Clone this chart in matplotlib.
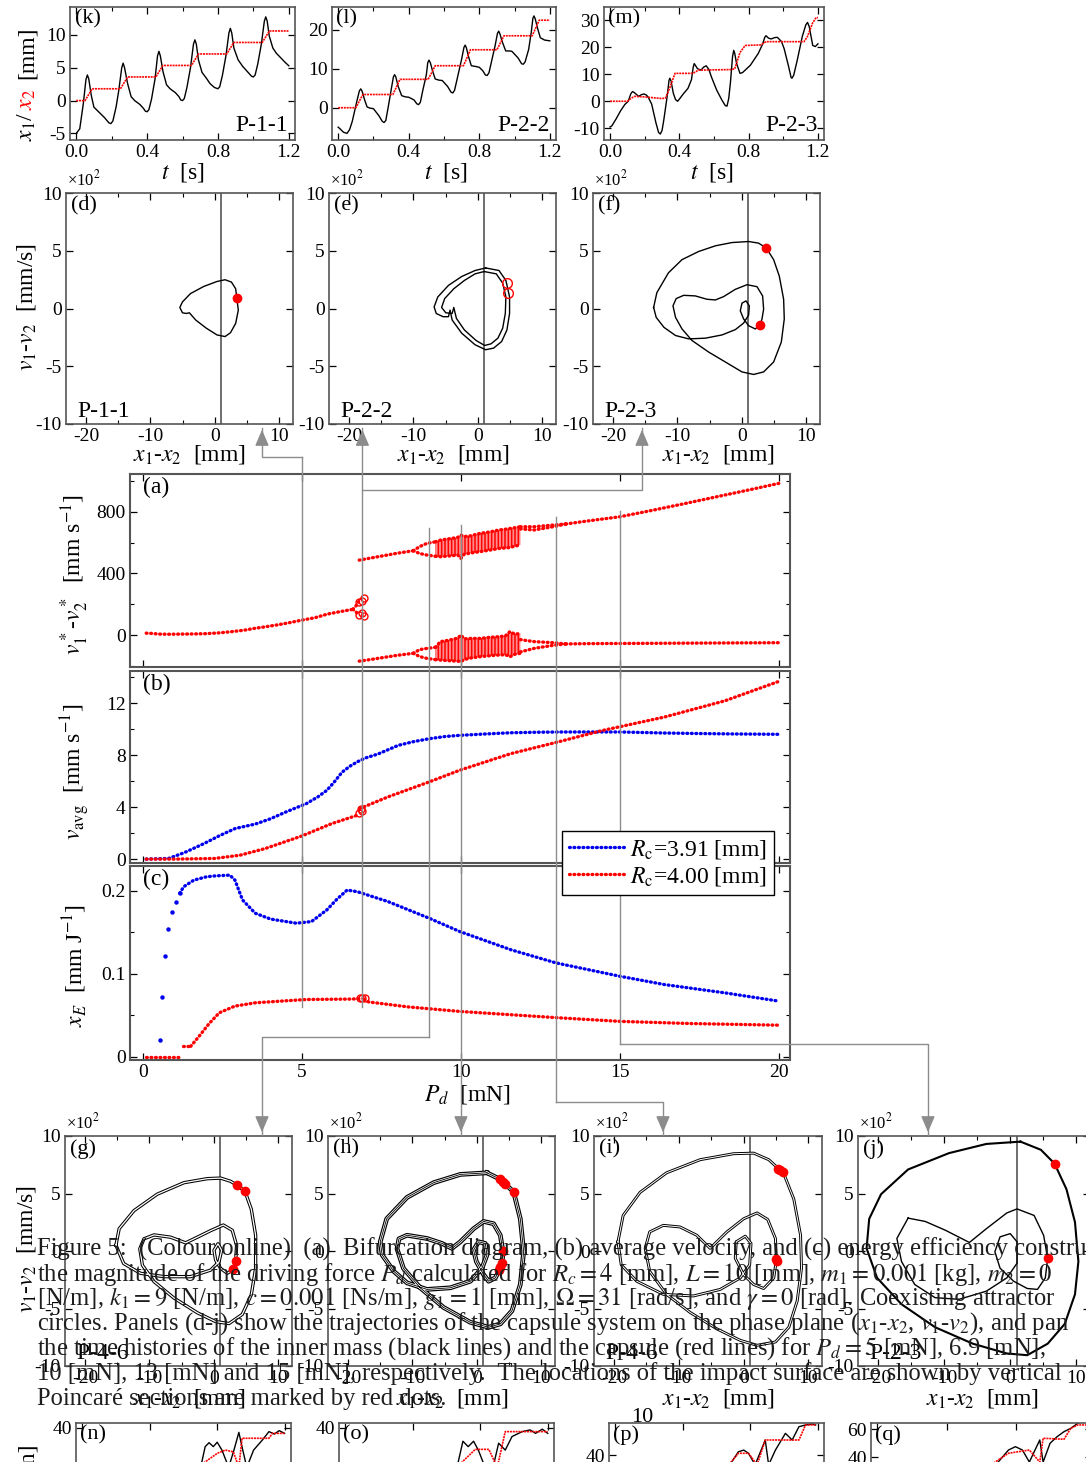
import matplotlib
matplotlib.use("Agg")
import matplotlib.pyplot as plt
from matplotlib.lines import Line2D
from matplotlib.patches import FancyArrowPatch

plt.rcParams['font.family'] = ['Liberation Serif', 'DejaVu Serif']
plt.rcParams['mathtext.fontset'] = 'stix'
plt.rcParams['axes.unicode_minus'] = False
plt.rcParams['hatch.linewidth'] = 1.1

W, H = 1086, 1462
GRAY = '#8c8c8c'
RED = '#ff0000'
BLUE = '#0000ee'

# ---------------- data: time histories (t [s], x [mm]) ----------------
k_black = [(0.0, -5.0), (0.02, -4.3), (0.04, -0.5), (0.055, 3.2), (0.063, 3.9), (0.071, 3.3),
           (0.085, 0.8), (0.10, -1.0), (0.13, -1.8), (0.16, -2.6), (0.185, -3.4), (0.196, -3.5),
           (0.207, -3.1), (0.225, -1.0), (0.24, 1.5), (0.257, 5.0), (0.265, 5.7), (0.273, 5.0),
           (0.29, 2.6), (0.31, 0.6), (0.33, 0.0), (0.36, -0.6), (0.38, -1.2), (0.39, -1.6),
           (0.40, -1.7), (0.41, -1.4), (0.425, 0.2), (0.445, 3.3), (0.459, 6.8), (0.467, 7.5),
           (0.475, 6.8), (0.49, 4.4), (0.51, 2.4), (0.53, 1.8), (0.56, 1.2), (0.58, 0.6),
           (0.59, 0.1), (0.60, 0.0), (0.61, 0.3), (0.625, 2.0), (0.645, 5.0), (0.662, 8.6),
           (0.67, 9.25), (0.678, 8.6), (0.69, 6.2), (0.71, 4.3), (0.735, 3.4), (0.755, 2.6),
           (0.78, 2.0), (0.80, 1.8), (0.81, 2.1), (0.825, 3.8), (0.845, 6.8), (0.862, 10.3),
           (0.87, 11.0), (0.878, 10.3), (0.89, 8.0), (0.914, 6.2), (0.94, 5.2), (0.96, 4.6),
           (0.98, 4.0), (0.99, 3.7), (1.0, 3.6), (1.01, 3.9), (1.025, 5.6), (1.045, 8.6),
           (1.062, 12.1), (1.07, 12.75), (1.078, 12.1), (1.09, 9.8), (1.11, 8.0), (1.13, 7.2),
           (1.155, 6.5), (1.18, 5.8), (1.2, 5.3)]
k_red = [(0.0, 0), (0.05, 0), (0.07, 0.9), (0.09, 1.8), (0.25, 1.8), (0.27, 2.7), (0.29, 3.6),
         (0.45, 3.6), (0.47, 4.5), (0.49, 5.35), (0.65, 5.35), (0.67, 6.2), (0.69, 7.1),
         (0.85, 7.1), (0.87, 8.0), (0.89, 8.85), (1.05, 8.85), (1.07, 9.7), (1.09, 10.6), (1.2, 10.6)]

l_black = [(0.0, -5.0), (0.01, -5.4), (0.03, -6.3), (0.05, -6.6), (0.065, -5.6), (0.08, -3.5),
           (0.105, 1.5), (0.12, 4.3), (0.128, 4.85), (0.136, 4.2), (0.15, 2.0), (0.164, 0.2),
           (0.18, -0.1), (0.2, -0.25), (0.23, -2.0), (0.25, -3.5), (0.26, -3.8), (0.27, -3.3),
           (0.285, 0.5), (0.3, 4.5), (0.313, 7.9), (0.32, 8.5), (0.327, 7.9), (0.34, 5.5),
           (0.36, 3.1), (0.38, 2.8), (0.40, 2.7), (0.43, 2.0), (0.446, 1.0), (0.456, 0.8),
           (0.466, 1.4), (0.48, 4.5), (0.5, 8.5), (0.508, 11.6), (0.515, 12.25), (0.523, 11.5),
           (0.535, 9.5), (0.55, 7.4), (0.57, 7.1), (0.59, 7.0), (0.62, 5.5), (0.64, 4.0),
           (0.65, 3.8), (0.66, 4.5), (0.68, 8.5), (0.70, 12.5), (0.713, 15.5), (0.72, 16.1),
           (0.727, 15.4), (0.74, 13.0), (0.755, 10.8), (0.78, 10.6), (0.80, 10.4), (0.82, 9.5),
           (0.835, 8.4), (0.845, 8.3), (0.855, 9.0), (0.87, 12.0), (0.89, 16.0), (0.903, 19.1),
           (0.91, 19.7), (0.917, 19.0), (0.93, 17.0), (0.95, 14.6), (0.97, 14.6), (0.985, 14.5),
           (1.02, 12.8), (1.04, 11.3), (1.05, 11.2), (1.06, 11.8), (1.08, 15.0), (1.095, 19.5),
           (1.104, 23.0), (1.11, 23.6), (1.117, 22.9), (1.13, 20.5), (1.146, 18.0), (1.17, 17.4),
           (1.2, 17.2)]
l_red = [(0.0, 0), (0.10, 0), (0.12, 1.7), (0.14, 3.4), (0.31, 3.4), (0.33, 5.3), (0.35, 7.3),
         (0.51, 7.3), (0.53, 9.0), (0.55, 10.8), (0.71, 10.8), (0.73, 12.8), (0.75, 14.9),
         (0.90, 14.9), (0.92, 16.7), (0.94, 18.5), (1.10, 18.5), (1.12, 20.5), (1.14, 22.5), (1.2, 22.5)]

m_black = [(0.0, -9.5), (0.01, -9.1), (0.035, -6.5), (0.06, -3.6), (0.085, -1.2), (0.105, 0.0),
           (0.12, 2.8), (0.13, 3.6), (0.14, 3.2), (0.165, 1.8), (0.18, 2.4), (0.195, 2.7),
           (0.21, 2.3), (0.22, 1.5), (0.24, -1.0), (0.265, -8.0), (0.28, -11.5), (0.29, -12.1),
           (0.30, -10.8), (0.31, -7.0), (0.33, 2.0), (0.34, 7.6), (0.345, 8.5), (0.352, 7.5),
           (0.365, 3.0), (0.378, 0.6), (0.39, 0.0), (0.405, 1.2), (0.42, 2.5), (0.45, 4.8),
           (0.47, 8.0), (0.48, 12.6), (0.486, 13.9), (0.495, 13.0), (0.505, 12.0), (0.525, 11.5),
           (0.54, 12.6), (0.555, 13.1), (0.57, 11.8), (0.585, 9.0), (0.615, 4.2), (0.645, 0.5),
           (0.665, -1.6), (0.675, -1.8), (0.685, 1.0), (0.695, 7.0), (0.707, 16.5), (0.714, 18.8),
           (0.72, 17.6), (0.73, 14.0), (0.75, 10.3), (0.765, 10.6), (0.78, 11.5), (0.81, 13.3),
           (0.855, 17.6), (0.88, 21.0), (0.893, 23.6), (0.9, 24.2), (0.915, 23.3), (0.93, 23.0),
           (0.95, 23.5), (0.966, 23.6), (0.99, 22.0), (1.005, 19.4), (1.03, 13.0), (1.045, 8.8),
           (1.05, 8.5), (1.06, 9.6), (1.08, 15.0), (1.11, 24.0), (1.13, 28.2), (1.14, 29.1),
           (1.15, 27.5), (1.16, 24.0), (1.17, 20.6), (1.185, 20.2), (1.2, 21.2)]
m_red = [(0.0, 0), (0.10, 0), (0.12, 1.0), (0.14, 1.8), (0.2, 1.6), (0.3, 1.0), (0.32, 1.2),
         (0.345, 5.0), (0.375, 10.3), (0.48, 10.3), (0.51, 11.5), (0.70, 11.7), (0.72, 12.0),
         (0.75, 18.0), (0.78, 20.6), (0.87, 20.8), (0.90, 22.0), (1.12, 22.0), (1.14, 24.0),
         (1.17, 29.0), (1.19, 30.9), (1.2, 30.9)]

# bottom (partly visible) time histories
n_black = [(0.6, 10.0), (0.708, 26.1), (0.728, 32.4), (0.751, 34.0), (0.776, 32.4), (0.799, 34.2),
           (0.827, 31.0), (0.867, 24.0), (0.898, 31.0), (0.927, 38.2), (0.95, 31.0), (0.974, 24.0),
           (1.014, 31.0), (1.066, 35.1), (1.105, 38.5), (1.137, 37.5), (1.165, 38.9), (1.197, 37.8)]
n_red = [(0.6, 20.0), (0.8, 29.7), (0.847, 31.0), (0.894, 30.3), (0.927, 24.0), (0.946, 35.8),
         (1.105, 35.8), (1.125, 37.8), (1.197, 37.8)]
o_black = [(0.6, 10.0), (0.669, 26.1), (0.697, 34.6), (0.728, 32.4), (0.76, 34.6), (0.788, 31.0),
           (0.828, 24.0), (0.868, 22.0), (0.908, 33.8), (0.947, 31.0), (0.987, 36.5), (1.047, 38.5),
           (1.094, 39.2), (1.126, 37.8), (1.166, 39.5), (1.198, 37.8)]
o_red = [(0.6, 20.0), (0.77, 31.3), (0.85, 31.3), (0.9, 24.0), (0.947, 38.5), (1.198, 38.5)]
p_black = [(0.6, 20.0), (0.689, 37.1), (0.729, 41.3), (0.761, 42.0), (0.789, 40.7), (0.828, 36.0),
           (0.888, 46.1), (0.908, 36.0), (0.948, 42.0), (1.007, 48.8), (1.047, 46.1), (1.087, 51.5),
           (1.126, 52.2), (1.166, 52.6), (1.186, 52.2)]
p_red = [(0.6, 30.0), (0.729, 40.7), (0.789, 40.7), (0.84, 36.0), (0.888, 46.1), (1.087, 46.1),
         (1.126, 52.2), (1.186, 52.2)]
q_black = [(0.6, 20.0), (0.696, 36.4), (0.755, 45.0), (0.795, 47.4), (0.835, 45.0), (0.875, 36.4),
           (0.935, 52.2), (0.954, 36.4), (0.994, 49.8), (1.034, 54.5), (1.074, 58.1), (1.113, 60.5),
           (1.153, 64.1), (1.193, 66.0)]
q_red = [(0.6, 30.0), (0.755, 42.7), (0.875, 45.0), (0.935, 36.4), (0.954, 53.4), (1.074, 52.7),
         (1.113, 60.5), (1.153, 62.9), (1.2, 62.9)]

# ---------------- data: phase portraits (x1-x2 [mm], v1-v2 [x100 mm/s]) ----------------
d_path = [(3.38, 0.94), (3.62, -0.14), (3.21, -1.29), (2.4, -2.1), (1.56, -2.43), (0.32, -2.29),
          (-1.33, -1.71), (-2.98, -1.0), (-3.97, -0.37), (-4.46, -0.43), (-5.04, -0.37),
          (-5.45, 0.09), (-5.04, 0.57), (-3.8, 1.29), (-1.74, 1.91), (0.32, 2.34), (1.56, 2.49),
          (2.55, 2.29), (3.21, 1.71), (3.38, 0.94)]
d_dots = [(3.38, 0.94)]
e_outer = [(1.19, 3.51), (3.26, 3.29), (4.33, 2.43), (4.9, 1.0), (4.9, -0.43), (4.49, -1.86),
           (3.67, -2.86), (2.43, -3.43), (1.19, -3.57), (-0.45, -3.14), (-2.52, -2.14),
           (-4.0, -1.0), (-4.33, -0.14), (-4.58, -0.71), (-5.41, -0.71), (-6.47, -0.43),
           (-6.8, 0.14), (-6.23, 1.0), (-4.58, 2.0), (-2.52, 2.77), (-0.45, 3.29), (1.19, 3.51)]
e_inner = [(0.95, 3.2), (2.84, 3.0), (3.83, 2.2), (4.33, 1.0), (4.24, -0.43), (3.83, -1.71),
           (3.09, -2.57), (2.02, -3.06), (1.03, -3.2), (-0.29, -2.77), (-2.1, -1.86),
           (-3.34, -0.86), (-3.75, 0.09), (-4.0, -0.43), (-4.99, -0.37), (-5.64, 0.09),
           (-5.16, 0.86), (-3.75, 1.71), (-2.1, 2.43), (-0.45, 3.0), (0.95, 3.2)]
e_circles = [(4.43, 2.2), (4.58, 1.34)]
f_path = [(-13.7, 0.09), (-13.2, 1.37), (-11.4, 3.09), (-9.3, 4.23), (-6.7, 4.94), (-4.1, 5.43),
          (-1.55, 5.71), (1.03, 5.8), (2.58, 5.66), (3.77, 5.23), (4.91, 4.23), (5.79, 2.8),
          (6.46, 0.8), (6.56, -0.91), (6.1, -2.91), (4.91, -4.63), (3.36, -5.49), (1.81, -5.71),
          (0.0, -5.49), (-2.58, -4.63), (-5.17, -3.77), (-7.75, -2.77), (-9.3, -1.77),
          (-10.3, -0.77), (-10.7, 0.23), (-10.2, 0.86), (-9.04, 1.14), (-7.24, 1.09),
          (-5.43, 0.8), (-4.13, 0.74), (-2.84, 1.03), (-1.03, 1.66), (0.78, 2.06), (2.33, 1.89),
          (3.2, 1.09), (3.36, -0.06), (3.1, -0.91), (2.84, -1.4), (2.07, -1.77), (1.03, -1.49),
          (0.26, -0.91), (-0.26, -0.2), (0.0, 0.46), (0.62, 0.66), (1.14, 0.23), (1.03, -0.57),
          (0.26, -1.26), (-1.03, -1.83), (-3.1, -2.29), (-5.68, -2.57), (-8.27, -2.63),
          (-10.3, -2.34), (-12.1, -1.63), (-13.3, -0.77), (-13.7, 0.09)]
f_dots = [(3.77, 5.23), (2.84, -1.4)]
g_path = [(-15.2, 0.51), (-14.7, 1.94), (-12.4, 3.51), (-8.8, 4.94), (-4.65, 5.94), (-1.03, 6.29),
          (1.03, 6.34), (2.58, 6.06), (3.51, 5.74), (4.8, 5.2), (5.79, 3.63), (6.46, 1.37),
          (6.46, -1.51), (5.79, -3.8), (4.39, -5.51), (2.33, -6.31), (0.26, -6.14), (-2.58, -5.37),
          (-6.2, -4.09), (-9.3, -2.66), (-11.1, -1.23), (-11.5, 0.2), (-10.85, 1.06), (-9.3, 1.4),
          (-6.72, 1.2), (-4.4, 0.71), (-2.58, 1.2), (-0.52, 1.77), (1.45, 2.26), (2.84, 1.8),
          (3.51, 0.49), (3.36, -0.94), (3.0, -1.6), (2.07, -1.94), (1.03, -1.51), (0.26, -0.8),
          (0.0, 0.06), (0.62, 0.63), (1.19, 0.06), (0.78, -0.94), (-0.52, -1.66), (-3.62, -2.23),
          (-7.75, -2.23), (-11.4, -1.94), (-14.0, -1.09), (-15.2, 0.51)]
g_dots = [(3.51, 5.74), (4.8, 5.2), (3.36, -0.91), (3.0, -1.58)]
h_path = [(1.55, 6.8), (3.62, 6.23), (5.0, 5.5), (5.68, 5.14), (6.72, 2.8), (7.24, -0.06),
          (6.72, -2.91), (5.43, -5.2), (3.62, -6.34), (1.81, -6.63), (-1.03, -6.2), (-5.17, -4.91),
          (-8.8, -3.2), (-11.4, -1.51), (-12.4, 0.2), (-12.1, 1.06), (-10.85, 1.37), (-7.75, 1.09),
          (-5.43, 0.66), (-3.88, 0.23), (-2.58, 0.8), (-0.52, 1.94), (1.03, 2.57), (2.58, 2.37),
          (3.62, 1.37), (4.03, -0.06), (3.88, -1.2), (2.84, -2.34), (1.81, -2.63), (1.03, -2.06),
          (-0.1, -0.91), (-0.52, 0.09), (0.26, 0.8), (1.29, 0.66), (1.55, -0.34), (0.78, -1.49),
          (-1.03, -2.63), (-4.13, -3.2), (-7.75, -3.34), (-10.85, -2.77), (-12.9, -1.77),
          (-14.7, -0.34), (-15.0, 0.8), (-14.0, 2.8), (-10.85, 4.66), (-6.72, 5.94), (-2.58, 6.66),
          (1.55, 6.8)]
h_dots = [(3.62, 6.23), (4.03, 6.03), (4.39, 5.8), (5.68, 5.14), (4.03, 0.0), (3.88, -1.06),
          (3.62, -1.43), (3.36, -1.63)]
i_path = [(-19.4, 0.8), (-18.6, 3.09), (-16.0, 5.09), (-11.9, 6.8), (-6.72, 7.94), (-1.55, 8.46),
          (1.55, 8.51), (3.88, 7.94), (5.43, 7.14), (6.1, 6.86), (7.75, 4.51), (8.79, 1.37),
          (8.94, -1.49), (8.27, -4.34), (6.98, -6.63), (4.91, -7.91), (2.07, -8.2), (-0.52, -7.77),
          (-4.13, -6.77), (-8.27, -5.34), (-11.9, -3.77), (-14.5, -1.77), (-15.2, 0.23),
          (-14.5, 1.66), (-12.4, 2.23), (-9.82, 2.09), (-7.24, 1.37), (-5.17, 0.23), (-2.58, 1.66),
          (0.0, 2.8), (2.07, 3.31), (3.72, 2.74), (4.91, 1.09), (5.06, -0.77), (4.65, -2.34),
          (3.1, -3.26), (1.55, -2.91), (0.0, -2.06), (-1.29, -0.63), (-1.14, 0.8), (0.26, 1.29),
          (1.14, 0.66), (0.93, -1.2), (-0.52, -2.34), (-3.62, -3.34), (-7.75, -3.91),
          (-12.4, -3.77), (-16.5, -2.63), (-18.9, -1.2), (-19.4, 0.8)]
i_dots = [(5.32, 7.17), (5.68, 7.03), (6.1, 6.86), (5.01, -0.69), (5.12, -0.91)]
j_outer = [(1.55, 9.51), (4.65, 8.8), (6.72, 7.6), (8.53, 5.37), (9.82, 2.51), (10.34, -0.91),
           (9.82, -3.77), (8.27, -6.34), (5.68, -8.06), (2.58, -9.06), (-0.52, -8.91),
           (-5.68, -8.06), (-11.4, -6.63), (-16.5, -4.63), (-20.2, -2.34), (-21.8, 0.23),
           (-21.4, 2.8), (-19.6, 4.94), (-15.5, 7.09), (-9.3, 8.51), (-3.62, 9.31), (1.55, 9.51)]
j_heart = [(-15.5, 2.86), (-12.9, 2.57), (-9.82, 1.8), (-6.2, 0.74), (-3.62, 1.94), (-0.52, 3.31),
           (1.03, 3.66), (3.62, 3.09), (5.06, 1.37), (5.68, -0.63), (5.32, -2.34), (4.13, -3.34),
           (2.58, -3.26), (0.52, -2.63), (-1.55, -1.49), (-2.33, -0.06), (-1.55, 1.23), (0.0, 1.51),
           (1.03, 0.8), (1.03, -1.06), (-0.52, -2.34), (-3.62, -3.49), (-7.75, -4.2),
           (-11.4, -4.06), (-14.5, -2.91), (-16.5, -0.91), (-17.2, 1.09), (-15.5, 2.86)]
j_dots = [(6.72, 7.6), (5.68, -0.63)]
impact_x = 1.0

# ---------------- data: bifurcation / velocity / efficiency vs P_d [mN] ----------------
a_pre = [(0.1, 12), (0.3, 10), (0.5, 6), (0.8, 5), (1.2, 6), (1.6, 7), (2.0, 9), (2.4, 14),
         (2.8, 22), (3.2, 32), (3.5, 43), (3.8, 52), (4.2, 65), (4.6, 80), (5.0, 97), (5.4, 112),
         (5.8, 136), (6.2, 152), (6.6, 167)]
a_fork_hi = [(6.6, 167), (6.7, 190), (6.78, 216)]
a_fork_lo = [(6.6, 167), (6.7, 150), (6.78, 130)]
a_circles = [(6.78, 216), (6.96, 243), (6.89, 223), (6.78, 130), (6.96, 123), (6.89, 145)]
a_up = [(6.8, 487), (7.2, 502), (7.6, 517), (8.0, 532), (8.5, 548)]
a_up_fork_hi = [(8.5, 548), (8.7, 575), (8.93, 596), (9.2, 606)]
a_up_fork_lo = [(8.5, 548), (8.7, 530), (8.93, 520), (9.2, 512)]
band_P = [9.2, 9.35, 9.5, 9.7, 9.9, 10.0, 10.1, 10.3, 10.6, 10.9, 11.2, 11.4, 11.54, 11.7, 11.87]
up_band_top = [606, 617, 622, 628, 635, 650, 640, 645, 661, 670, 683, 688, 693, 698, 704]
up_band_bot = [512, 509, 512, 515, 520, 498, 525, 533, 542, 552, 563, 566, 569, 578, 585]
lo_band_top = [-80, -43, -38, -30, -20, 0, -25, -22, -22, -15, -11, -5, 22, 5, 11]
lo_band_bot = [-160, -163, -165, -168, -170, -173, -160, -150, -141, -135, -130, -128, -141, -125, -119]
a_up_p2_hi = [(11.87, 704), (12.3, 704), (12.9, 715), (13.3, 722)]
a_up_p2_lo = [(11.87, 690), (12.3, 683), (12.9, 704), (13.3, 722)]
a_up_end = [(13.3, 722), (14.0, 742), (15.0, 769), (16.0, 810), (17.0, 853), (18.0, 897),
            (19.0, 941), (20.0, 986)]
a_lo = [(6.8, -170), (7.2, -158), (7.6, -145), (8.0, -132), (8.5, -119)]
a_lo_fork_hi = [(8.5, -119), (8.7, -95), (8.93, -87), (9.2, -80)]
a_lo_fork_lo = [(8.5, -119), (8.7, -140), (8.93, -152), (9.2, -160)]
a_lo_p2_hi = [(11.87, -30), (12.3, -43), (12.9, -50), (13.3, -58)]
a_lo_p2_lo = [(11.87, -110), (12.3, -87), (12.9, -67), (13.3, -58)]
a_lo_end = [(13.3, -58), (14.0, -56), (15.0, -55), (16.0, -54), (17.0, -53), (18.0, -52),
            (19.0, -51), (20.0, -50)]

b_blue = [(0.1, 0.0), (0.8, 0.05), (1.3, 0.5), (1.92, 1.2), (2.4, 1.8), (2.9, 2.36), (3.53, 2.7),
          (4.0, 3.1), (4.5, 3.64), (5.14, 4.28), (5.5, 4.8), (5.78, 5.3), (6.0, 5.9), (6.26, 6.7),
          (6.5, 7.15), (6.74, 7.5), (7.0, 7.8), (7.39, 8.1), (8.03, 8.77), (8.5, 9.05), (9.0, 9.28),
          (9.5, 9.45), (9.96, 9.54), (10.8, 9.65), (11.57, 9.74), (12.4, 9.78), (13.2, 9.8),
          (14.0, 9.8), (15.0, 9.8), (16.4, 9.72), (17.5, 9.68), (18.5, 9.65), (20.0, 9.62)]
b_red_lo = [(0.1, 0.0), (1.0, 0.0), (2.25, 0.05), (3.05, 0.3), (3.85, 0.82), (4.98, 1.77),
            (5.94, 2.74), (6.74, 3.38)]
b_red_hi = [(6.82, 3.9), (7.71, 4.8), (9.0, 5.95), (9.96, 6.85), (11.57, 8.13), (13.0, 9.0),
            (14.46, 9.92), (16.4, 10.95), (18.3, 12.2), (20.0, 13.7)]
b_circles = [(6.8, 3.55), (6.88, 3.7), (6.85, 3.85)]

c_blue_rise = [(0.53, 0.0197), (0.61, 0.072), (0.69, 0.122), (0.8, 0.154), (0.91, 0.174),
               (1.04, 0.186), (1.15, 0.197)]
c_blue = [(1.15, 0.197), (1.28, 0.205), (1.6, 0.213), (2.0, 0.217), (2.25, 0.218), (2.73, 0.219),
          (2.89, 0.213), (3.13, 0.189), (3.53, 0.173), (4.01, 0.166), (4.82, 0.161), (5.3, 0.163),
          (5.78, 0.177), (6.1, 0.19), (6.42, 0.201), (6.74, 0.199), (7.71, 0.187), (9.0, 0.167),
          (9.96, 0.151), (11.57, 0.129), (13.0, 0.113), (15.0, 0.097), (16.4, 0.087),
          (18.3, 0.077), (20.0, 0.067)]
c_red_zero = [(0.1, 0.0), (1.12, 0.0)]
c_red_step = [(1.25, 0.0125), (1.5, 0.0125)]
c_red = [(1.5, 0.0125), (1.76, 0.0245), (2.08, 0.04), (2.4, 0.053), (2.89, 0.061), (3.53, 0.065),
         (4.33, 0.067), (5.14, 0.069), (6.58, 0.0695), (6.8, 0.07)]
c_red_after = [(6.95, 0.069), (7.1, 0.066), (8.35, 0.06), (9.96, 0.0546), (11.57, 0.0506),
               (13.2, 0.0466), (15.0, 0.0426), (17.2, 0.04), (20.0, 0.038)]
c_circles = [(6.82, 0.071), (6.9, 0.0705), (6.97, 0.071)]

legend_labels = ['$R_{\\rm c}$=3.91 [mm]', '$R_{\\rm c}$=4.00 [mm]']

# connector lines between panels
conn_P = [5, 6.9, 9, 10, 13, 15]
conn_top = [457, 428, 528, 525, 517, 511]
conn_bot = [1007, 1007, 1037, 1135, 1102, 1044]

caption = [
    "Figure 5:  (Colour online)  (a)  Bifurcation diagram, (b) average velocity, and (c) energy efficiency constru",
    "the magnitude of the driving force $P_d$ calculated for $R_c = 4$ [mm], $L = 10$ [mm], $m_1 = 0.001$ [kg], $m_2 = 0$",
    "[N/m], $k_1 = 9$ [N/m], $c = 0.001$ [Ns/m], $g_1 = 1$ [mm], $\\Omega = 31$ [rad/s], and $\\gamma = 0$ [rad]. Coexisting attractor",
    "circles. Panels (d-j) show the trajectories of the capsule system on the phase plane ($x_1$-$x_2$, $v_1$-$v_2$), and pan",
    "the time histories of the inner mass (black lines) and the capsule (red lines) for $P_d = 5$ [mN], 6.9 [mN],",
    "10 [mN], 13 [mN] and 15 [mN], respectively.  The locations of the impact surface are shown by vertical",
    "Poincar\u00e9 sections are marked by red dots.",
]

# ---------------- figure ----------------
fig = plt.figure(figsize=(W / 100, H / 100), dpi=100)


def fx(x):
    return x / W


def fy(y):
    return 1 - y / H


def box(l, t, r, b):
    return fig.add_axes([l / W, 1 - b / H, (r - l) / W, (b - t) / H])


def style(ax, size=14):
    ax.tick_params(which='both', direction='in', top=True, right=True, labelsize=size, pad=3)
    ax.tick_params(which='major', length=5, width=0.9)
    ax.tick_params(which='minor', length=3, width=0.8)
    for s in ax.spines.values():
        s.set_color('#555555')
        s.set_linewidth(1.2)


def xy(pairs):
    return [p[0] for p in pairs], [p[1] for p in pairs]


def tag(ax, s, size=16):
    ax.text(0.02, 0.985, s, transform=ax.transAxes, ha='left', va='top', fontsize=size)


# ---- top row: time histories
top_specs = [
    ((70, 7, 295, 140), k_black, k_red, (-6, 14.25), [-5, 0, 5, 10], '(k)', 'P-1-1', 183),
    ((332, 7, 556, 140), l_black, l_red, (-8.3, 25.9), [0, 10, 20], '(l)', 'P-2-2', 446),
    ((604, 7, 824, 140), m_black, m_red, (-14.3, 34.8), [-10, 0, 10, 20, 30], '(m)', 'P-2-3', 712),
]
for rect, blk, red, ylim, yt, lab, orbit, xc in top_specs:
    ax = box(*rect)
    style(ax)
    t, x = xy(blk)
    ax.plot(t, x, color='k', lw=1.0)
    t, x = xy(red)
    ax.plot(t, x, color=RED, lw=1.2, ls=(0, (1.2, 0.5)))
    ax.set_xlim(-0.035, 1.235)
    ax.set_ylim(*ylim)
    ax.set_xticks([0.0, 0.4, 0.8, 1.2])
    ax.set_xticklabels(['0.0', '0.4', '0.8', '1.2'])
    ax.set_xticks([0.2, 0.6, 1.0], minor=True)
    ax.set_yticks(yt)
    tag(ax, lab)
    ax.text(0.97, 0.03, orbit, transform=ax.transAxes, ha='right', va='bottom', fontsize=17)
    fig.text(fx(xc), fy(173), '$t$  [s]', ha='center', va='center', fontsize=17)

# y-label of top row with red x2
for y0 in (0, 1416):
    fig.text(fx(27), fy(141 + y0), '$x_1$/', rotation=90, ha='center', va='bottom', fontsize=17)
    fig.text(fx(27), fy(110 + y0), '$x_2$', rotation=90, ha='center', va='bottom', fontsize=17, color=RED)
    fig.text(fx(27), fy(79 + y0), '[mm]', rotation=90, ha='center', va='bottom', fontsize=17)


# ---- phase portraits
def phase_axes(rect, lab, orbit, xlab_c, ylab_y=None):
    ax = box(*rect)
    style(ax)
    ax.set_xlim(-23.1, 12.1)
    ax.set_ylim(-10, 10)
    ax.set_xticks([-20, -10, 0, 10])
    ax.set_xticks([-15, -5, 5], minor=True)
    ax.set_yticks([-10, -5, 0, 5, 10])
    ax.axvline(impact_x, color='#555555', lw=1.2, zorder=1)
    tag(ax, lab)
    if orbit:
        ax.text(0.05, 0.01, orbit, transform=ax.transAxes, ha='left', va='bottom', fontsize=17)
    fig.text(fx(rect[0] + 1), fy(rect[1] - 14), '\u00d710$^2$', ha='left', va='center', fontsize=12)
    fig.text(fx(xlab_c[0]), fy(xlab_c[1]), '$x_1$-$x_2$  [mm]', ha='center', va='center', fontsize=17)
    if ylab_y is not None:
        fig.text(fx(27), fy(ylab_y), '$v_1$-$v_2$  [mm/s]', rotation=90, ha='center', va='center', fontsize=17)
    return ax


def dots(ax, pairs):
    x, y = xy(pairs)
    ax.plot(x, y, 'o', color=RED, ms=6, zorder=5)


ax_d = phase_axes((66, 193, 293, 424), '(d)', 'P-1-1', (189, 455), ylab_y=307)
x, y = xy(d_path)
ax_d.plot(x, y, color='k', lw=1.0)
dots(ax_d, d_dots)

ax_e = phase_axes((329, 193, 556, 424), '(e)', 'P-2-2', (453, 455))
for path in (e_outer, e_inner):
    x, y = xy(path)
    ax_e.plot(x, y, color='k', lw=1.0)
x, y = xy(e_circles)
ax_e.plot(x, y, 'o', mfc='none', mec=RED, mew=1.0, ms=7, zorder=5)

ax_f = phase_axes((593, 193, 820, 424), '(f)', 'P-2-3', (718, 455))
x, y = xy(f_path)
ax_f.plot(x, y, color='k', lw=1.0)
dots(ax_f, f_dots)

ax_g = phase_axes((65, 1136, 292, 1366), '(g)', 'P-4-6', (189, 1399), ylab_y=1249)
x, y = xy(g_path)
ax_g.plot(x, y, color='k', lw=2.4)
ax_g.plot(x, y, color='w', lw=0.9)
dots(ax_g, g_dots)

ax_h = phase_axes((328, 1136, 555, 1366), '(h)', None, (452, 1398))
x, y = xy(h_path)
ax_h.plot(x, y, color='k', lw=3.4)
ax_h.plot(x, y, color='w', lw=1.7)
ax_h.plot(x, y, color='k', lw=0.6)
dots(ax_h, h_dots)

ax_i = phase_axes((594, 1136, 822, 1366), '(i)', 'P-4-6', (718, 1398))
x, y = xy(i_path)
ax_i.plot(x, y, color='k', lw=2.1)
ax_i.plot(x, y, color='w', lw=0.7)
dots(ax_i, i_dots)

ax_j = phase_axes((858, 1136, 1090, 1366), '(j)', 'P-2-3', (982, 1398))
x, y = xy(j_outer)
ax_j.plot(x, y, color='k', lw=1.5)
x, y = xy(j_heart)
ax_j.plot(x, y, color='k', lw=1.0)
dots(ax_j, j_dots)

# ---- bottom row (cut by page edge)
bot_specs = [
    ((76, 1423, 291, 1556), n_black, n_red, (-12, 42), [0, 20, 40], '(n)'),
    ((339, 1423, 554, 1556), o_black, o_red, (-12, 42), [0, 20, 40], '(o)'),
    ((609, 1423, 824, 1556), p_black, p_red, (-1, 53), [0, 20, 40], '(p)'),
    ((871, 1423, 1092, 1556), q_black, q_red, (-30.7, 64.3), [-20, 0, 20, 40, 60], '(q)'),
]
for rect, blk, red, ylim, yt, lab in bot_specs:
    ax = box(*rect)
    style(ax)
    t, x = xy(blk)
    ax.plot(t, x, color='k', lw=1.0)
    t, x = xy(red)
    ax.plot(t, x, color=RED, lw=1.2, ls=(0, (1.2, 0.5)))
    ax.set_xlim(-0.035, 1.235)
    ax.set_ylim(*ylim)
    ax.set_yticks(yt)
    ax.set_xticks([0.0, 0.4, 0.8, 1.2])
    tag(ax, lab)
fig.text(fx(642), fy(1417), '10', ha='center', va='center', fontsize=16)

# ---- main panels (a), (b), (c)
DOT = dict(ls=(0, (0.25, 1.1)), lw=2.4, dash_capstyle='round')

ax_a = box(130, 474, 790, 667)
ax_b = box(130, 671, 790, 863)
ax_c = box(130, 866, 790, 1060)
for ax in (ax_a, ax_b, ax_c):
    style(ax)
    ax.set_xlim(-0.41, 20.35)
    ax.set_xticks([0, 5, 10, 15, 20])
    for s in ax.spines.values():
        s.set_linewidth(1.5)
ax_a.tick_params(labelbottom=False)
ax_b.tick_params(labelbottom=False)

for seg in (a_pre, a_fork_hi, a_fork_lo, a_up, a_up_fork_hi, a_up_fork_lo, a_up_p2_hi, a_up_p2_lo,
            a_up_end, a_lo, a_lo_fork_hi, a_lo_fork_lo, a_lo_p2_hi, a_lo_p2_lo, a_lo_end):
    x, y = xy(seg)
    ax_a.plot(x, y, color=RED, **DOT)
for bot, top in ((up_band_bot, up_band_top), (lo_band_bot, lo_band_top)):
    ax_a.fill_between(band_P, bot, top, facecolor=(1, 0, 0, 0.45), edgecolor=RED, hatch='|||||', lw=0)
    ax_a.plot(band_P, top, color=RED, **DOT)
    ax_a.plot(band_P, bot, color=RED, **DOT)
x, y = xy(a_circles)
ax_a.plot(x, y, 'o', mfc='none', mec=RED, mew=1.0, ms=5)
ax_a.set_ylim(-208, 1047)
ax_a.set_yticks([0, 400, 800])
ax_a.set_yticks([-200, 200, 600, 1000], minor=True)
tag(ax_a, '(a)', 17)

x, y = xy(b_blue)
ax_b.plot(x, y, color=BLUE, **DOT)
for seg in (b_red_lo, b_red_hi):
    x, y = xy(seg)
    ax_b.plot(x, y, color=RED, **DOT)
x, y = xy(b_circles)
ax_b.plot(x, y, 'o', mfc='none', mec=RED, mew=1.0, ms=5)
ax_b.set_ylim(-0.3, 14.5)
ax_b.set_yticks([0, 4, 8, 12])
ax_b.set_yticks([2, 6, 10, 14], minor=True)
tag(ax_b, '(b)', 17)

x, y = xy(c_blue_rise)
ax_c.plot(x, y, 'o', color=BLUE, ms=3.2, mew=0)
x, y = xy(c_blue)
blue_line, = ax_c.plot(x, y, color=BLUE, **DOT)
for seg in (c_red_zero, c_red_step, c_red, c_red_after):
    x, y = xy(seg)
    red_line, = ax_c.plot(x, y, color=RED, **DOT)
x, y = xy(c_circles)
ax_c.plot(x, y, 'o', mfc='none', mec=RED, mew=1.0, ms=5)
ax_c.set_ylim(-0.004, 0.23)
ax_c.set_yticks([0, 0.1, 0.2])
ax_c.set_yticklabels(['0', '0.1', '0.2'])
ax_c.set_yticks([0.05, 0.15], minor=True)
tag(ax_c, '(c)', 17)

fig.text(fx(75), fy(575), '$v_1^*$-$v_2^*$  [mm s$^{-1}$]', rotation=90, ha='center', va='center', fontsize=17)
fig.text(fx(75), fy(772), '$v_{\\rm avg}$  [mm s$^{-1}$]', rotation=90, ha='center', va='center', fontsize=17)
fig.text(fx(75), fy(965), '$x_E$  [mm J$^{-1}$]', rotation=90, ha='center', va='center', fontsize=17)
fig.text(fx(468), fy(1095), '$P_d$  [mN]', ha='center', va='center', fontsize=17)

leg = fig.legend([blue_line, red_line], legend_labels, loc='upper left',
                 bbox_to_anchor=(fx(562), fy(831)), bbox_transform=fig.transFigure,
                 fontsize=17, frameon=True, fancybox=False, edgecolor='k', framealpha=1,
                 borderaxespad=0, borderpad=0.3, handlelength=2.4, handletextpad=0.2,
                 labelspacing=0.15)
leg.get_frame().set_linewidth(1.0)
leg.set_zorder(10)


# ---- connectors
def px_of(P):
    return ax_a.transData.transform((P, 0))[0]


def gline(xs, ys):
    fig.add_artist(Line2D([fx(v) for v in xs], [fy(v) for v in ys], color=GRAY, lw=1.0, zorder=4))


for P, yt, yb in zip(conn_P, conn_top, conn_bot):
    gline([px_of(P), px_of(P)], [yt, yb])
gline([262, 262, px_of(5)], [428, 457, 457])
gline([px_of(6.9), 642, 642], [490, 490, 428])
gline([px_of(9), 262, 262], [1037, 1037, 1135])
gline([px_of(13), 663, 663], [1102, 1102, 1135])
gline([px_of(15), 928, 928], [1044, 1044, 1135])

for xa in (262, px_of(6.9), 642):
    fig.add_artist(FancyArrowPatch((fx(xa), fy(440)), (fx(xa), fy(427)), transform=fig.transFigure,
                                   arrowstyle='-|>,head_length=0.7,head_width=0.3',
                                   mutation_scale=14, color=GRAY, lw=1.0, zorder=4))
for xa in (262, px_of(10), 663, 928):
    fig.add_artist(FancyArrowPatch((fx(xa), fy(1122)), (fx(xa), fy(1135)), transform=fig.transFigure,
                                   arrowstyle='-|>,head_length=0.7,head_width=0.3',
                                   mutation_scale=14, color=GRAY, lw=1.0, zorder=4))

# ---- caption text overprinted on the page
for i, line in enumerate(caption):
    fig.text(fx(37), fy(1249 + 25 * i), line, ha='left', va='center', fontsize=17.7,
             color='#1e1e1e', zorder=6)

fig.savefig('out.png', dpi=100)
